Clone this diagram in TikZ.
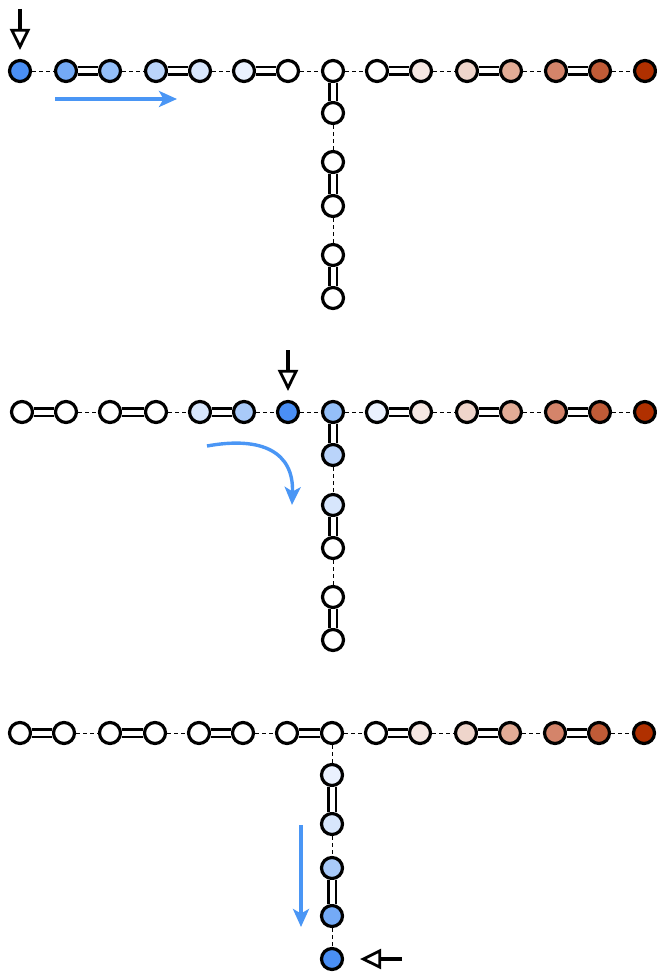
\documentclass[tikz,border=0pt]{standalone}
\usepackage{tikz}
\usetikzlibrary{arrows.meta}

\definecolor{b6}{HTML}{4A8FF5}
\definecolor{b5}{HTML}{74AAF6}
\definecolor{b4}{HTML}{94BFF8}
\definecolor{b3}{HTML}{A9CAF9}
\definecolor{b2}{HTML}{BAD4FA}
\definecolor{b1}{HTML}{D7E6FC}
\definecolor{b0}{HTML}{EAF1FE}
\definecolor{r1}{HTML}{F6E7E2}
\definecolor{r2}{HTML}{EFD5CB}
\definecolor{r3}{HTML}{E2AC96}
\definecolor{r4}{HTML}{D4846A}
\definecolor{r5}{HTML}{C05B37}
\definecolor{r6}{HTML}{B03000}
\definecolor{flow}{HTML}{4A96F5}

\begin{document}
\begin{tikzpicture}[x=1pt,y=-1pt,line join=bevel,
  site/.style={circle,draw=black,line width=3.2pt,minimum size=21pt,inner sep=0pt,fill=white},
  dbl/.style={draw=black,line width=2.8pt,double=white,double distance=5pt},
  sgl/.style={draw=black,line width=0.9pt,dash pattern=on 4pt off 3pt},
  pointer/.style={draw=black,line width=3.2pt,-{Triangle[open,length=21pt,width=20pt,line width=2.8pt]}},
  move/.style={draw=flow,line width=3.4pt,-{Stealth[length=18pt,width=16pt,inset=4.5pt]}}]
\useasboundingbox (0,0) rectangle (656,973);
%% panel 1
\node (node_0) at (20,71) [site,fill=b6] {};
  \node (node_1) at (66,71) [site,fill=b5] {};
  \node (node_2) at (110,71) [site,fill=b4] {};
  \node (node_3) at (156,71) [site,fill=b2] {};
  \node (node_4) at (200,71) [site,fill=b1] {};
  \node (node_5) at (244,71) [site,fill=b0] {};
  \node (node_6) at (288,71) [site] {};
  \node (node_7) at (333,71) [site] {};
  \node (node_8) at (377,71) [site] {};
  \node (node_9) at (421,71) [site,fill=r1] {};
  \node (node_10) at (467,71) [site,fill=r2] {};
  \node (node_11) at (511,71) [site,fill=r3] {};
  \node (node_12) at (556,71) [site,fill=r4] {};
  \node (node_13) at (600,71) [site,fill=r5] {};
  \node (node_14) at (645,71) [site,fill=r6] {};
  \node (node_15) at (333,113) [site] {};
  \node (node_16) at (333,162) [site] {};
  \node (node_17) at (333,206) [site] {};
  \node (node_18) at (333,255) [site] {};
  \node (node_19) at (333,298) [site] {};
  \draw [sgl] (node_0) -- (node_1);
  \draw [dbl] (node_1) -- (node_2);
  \draw [sgl] (node_2) -- (node_3);
  \draw [dbl] (node_3) -- (node_4);
  \draw [sgl] (node_4) -- (node_5);
  \draw [dbl] (node_5) -- (node_6);
  \draw [sgl] (node_6) -- (node_7);
  \draw [sgl] (node_7) -- (node_8);
  \draw [dbl] (node_8) -- (node_9);
  \draw [sgl] (node_9) -- (node_10);
  \draw [dbl] (node_10) -- (node_11);
  \draw [sgl] (node_11) -- (node_12);
  \draw [dbl] (node_12) -- (node_13);
  \draw [sgl] (node_13) -- (node_14);
  \draw [dbl] (node_7) -- (node_15);
  \draw [sgl] (node_15) -- (node_16);
  \draw [dbl] (node_16) -- (node_17);
  \draw [sgl] (node_17) -- (node_18);
  \draw [dbl] (node_18) -- (node_19);
  \coordinate (in_0) at (20,9);
  \draw [pointer,shorten >=9pt] (in_0) -- (node_0);
  \coordinate (flow_0a) at (55,99);
  \coordinate (flow_0b) at (177,99);
  \draw [move] (flow_0a) -- (flow_0b);
%% panel 2
\node (node_20) at (22,412) [site] {};
  \node (node_21) at (66,412) [site] {};
  \node (node_22) at (110,412) [site] {};
  \node (node_23) at (156,412) [site] {};
  \node (node_24) at (200,412) [site,fill=b1] {};
  \node (node_25) at (244,412) [site,fill=b3] {};
  \node (node_26) at (288,412) [site,fill=b6] {};
  \node (node_27) at (333,412) [site,fill=b4] {};
  \node (node_28) at (377,412) [site,fill=b0] {};
  \node (node_29) at (421,412) [site,fill=r1] {};
  \node (node_30) at (467,412) [site,fill=r2] {};
  \node (node_31) at (511,412) [site,fill=r3] {};
  \node (node_32) at (556,412) [site,fill=r4] {};
  \node (node_33) at (600,412) [site,fill=r5] {};
  \node (node_34) at (645,412) [site,fill=r6] {};
  \node (node_35) at (333,455) [site,fill=b2] {};
  \node (node_36) at (333,505) [site,fill=b1] {};
  \node (node_37) at (333,548) [site] {};
  \node (node_38) at (333,597) [site] {};
  \node (node_39) at (333,640) [site] {};
  \draw [dbl] (node_20) -- (node_21);
  \draw [sgl] (node_21) -- (node_22);
  \draw [dbl] (node_22) -- (node_23);
  \draw [sgl] (node_23) -- (node_24);
  \draw [dbl] (node_24) -- (node_25);
  \draw [sgl] (node_25) -- (node_26);
  \draw [sgl] (node_26) -- (node_27);
  \draw [sgl] (node_27) -- (node_28);
  \draw [dbl] (node_28) -- (node_29);
  \draw [sgl] (node_29) -- (node_30);
  \draw [dbl] (node_30) -- (node_31);
  \draw [sgl] (node_31) -- (node_32);
  \draw [dbl] (node_32) -- (node_33);
  \draw [sgl] (node_33) -- (node_34);
  \draw [dbl] (node_27) -- (node_35);
  \draw [sgl] (node_35) -- (node_36);
  \draw [dbl] (node_36) -- (node_37);
  \draw [sgl] (node_37) -- (node_38);
  \draw [dbl] (node_38) -- (node_39);
  \coordinate (in_1) at (288,350);
  \draw [pointer,shorten >=9pt] (in_1) -- (node_26);
  \coordinate (flow_1a) at (207,446);
  \coordinate (flow_1b) at (292,505);
  \draw [move] (flow_1a) .. controls (262,436) and (294,452) .. (flow_1b);
%% panel 3
\node (node_40) at (20,733) [site] {};
  \node (node_41) at (64,733) [site] {};
  \node (node_42) at (110,733) [site] {};
  \node (node_43) at (155,733) [site] {};
  \node (node_44) at (199,733) [site] {};
  \node (node_45) at (243,733) [site] {};
  \node (node_46) at (287,733) [site] {};
  \node (node_47) at (332,733) [site] {};
  \node (node_48) at (376,733) [site] {};
  \node (node_49) at (420,733) [site,fill=r1] {};
  \node (node_50) at (466,733) [site,fill=r2] {};
  \node (node_51) at (510,733) [site,fill=r3] {};
  \node (node_52) at (555,733) [site,fill=r4] {};
  \node (node_53) at (599,733) [site,fill=r5] {};
  \node (node_54) at (644,733) [site,fill=r6] {};
  \node (node_55) at (332,775) [site,fill=b0] {};
  \node (node_56) at (332,824) [site,fill=b1] {};
  \node (node_57) at (332,868) [site,fill=b3] {};
  \node (node_58) at (332,916) [site,fill=b5] {};
  \node (node_59) at (332,959) [site,fill=b6] {};
  \draw [dbl] (node_40) -- (node_41);
  \draw [sgl] (node_41) -- (node_42);
  \draw [dbl] (node_42) -- (node_43);
  \draw [sgl] (node_43) -- (node_44);
  \draw [dbl] (node_44) -- (node_45);
  \draw [sgl] (node_45) -- (node_46);
  \draw [dbl] (node_46) -- (node_47);
  \draw [sgl] (node_47) -- (node_48);
  \draw [dbl] (node_48) -- (node_49);
  \draw [sgl] (node_49) -- (node_50);
  \draw [dbl] (node_50) -- (node_51);
  \draw [sgl] (node_51) -- (node_52);
  \draw [dbl] (node_52) -- (node_53);
  \draw [sgl] (node_53) -- (node_54);
  \draw [sgl] (node_47) -- (node_55);
  \draw [dbl] (node_55) -- (node_56);
  \draw [sgl] (node_56) -- (node_57);
  \draw [dbl] (node_57) -- (node_58);
  \draw [sgl] (node_58) -- (node_59);
  \coordinate (in_2) at (402,959);
  \draw [pointer,shorten >=16pt] (in_2) -- (node_59);
  \coordinate (flow_2a) at (301,825);
  \coordinate (flow_2b) at (301,927);
  \draw [move] (flow_2a) -- (flow_2b);
%
\end{tikzpicture}
\end{document}
